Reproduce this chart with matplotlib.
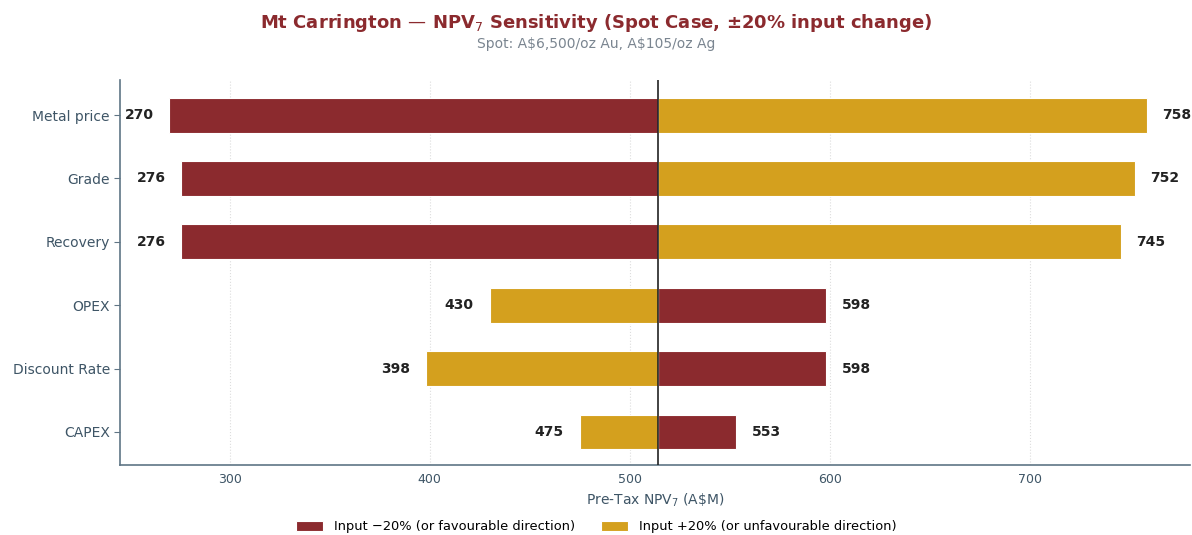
import numpy as np
import matplotlib.pyplot as plt

# --- Données ---
drivers = ["Metal price", "Grade", "Recovery", "OPEX", "Discount Rate", "CAPEX"]
npv_minus20 = [270, 276, 276, 598, 598, 553]   # input -20%
npv_plus20 = [758, 752, 745, 430, 398, 475]    # input +20%
base_npv = 514

red = "#8B2A2E"
gold = "#D4A01E"
slate = "#3E5566"
spine_col = "#5F7585"

fig, ax = plt.subplots(figsize=(11.92, 5.35), dpi=100)
fig.subplots_adjust(left=0.101, right=0.998, top=0.85, bottom=0.131)

y = np.arange(len(drivers))[::-1]
h = 0.55

ax.barh(y, np.array(npv_minus20) - base_npv, left=base_npv, height=h,
        color=red, edgecolor="white", linewidth=0.8,
        label="Input \u221220% (or favourable direction)", zorder=3)
ax.barh(y, np.array(npv_plus20) - base_npv, left=base_npv, height=h,
        color=gold, edgecolor="white", linewidth=0.8,
        label="Input +20% (or unfavourable direction)", zorder=3)

ax.axvline(base_npv, color="#222222", linewidth=1.2, zorder=4)

# Etiquettes des valeurs
for yi, a, b in zip(y, npv_minus20, npv_plus20):
    for v in (a, b):
        if v < base_npv:
            ax.text(v - 8, yi, f"{v}", ha="right", va="center",
                    fontsize=10, fontweight="bold", color="#222222")
        else:
            ax.text(v + 8, yi, f"{v}", ha="left", va="center",
                    fontsize=10, fontweight="bold", color="#222222")

ax.set_yticks(y)
ax.set_yticklabels(drivers, fontsize=10, color=slate)
ax.set_xlim(245.5, 779.5)
ax.set_ylim(-0.52, 5.55)
ax.set_xticks([300, 400, 500, 600, 700])
ax.tick_params(axis="x", labelsize=9, colors=slate, length=0, pad=6)
ax.tick_params(axis="y", colors=spine_col, labelcolor=slate, length=4)
ax.grid(axis="x", color="#dddddd", linestyle=":", linewidth=0.8, zorder=0)

for s in ["top", "right"]:
    ax.spines[s].set_visible(False)
for s in ["left", "bottom"]:
    ax.spines[s].set_color(spine_col)
    ax.spines[s].set_linewidth(1.2)

ax.set_xlabel("Pre-Tax NPV$_7$ (A\\$M)", fontsize=10, color=slate, labelpad=4)

fig.text(0.5, 0.957, "Mt Carrington \u2014 NPV$_7$ Sensitivity (Spot Case, \u00b120% input change)",
         ha="center", va="center", fontsize=13, fontweight="bold", color=red)
fig.text(0.5, 0.918, "Spot: A\\$6,500/oz Au, A\\$105/oz Ag",
         ha="center", va="center", fontsize=10, color="#7A8590")

fig.legend(loc="center", bbox_to_anchor=(0.5, 0.015), ncol=2,
           frameon=False, fontsize=9.4, handlelength=2.1, handleheight=0.9,
           columnspacing=2.0)

fig.savefig("out.png", dpi=100)
